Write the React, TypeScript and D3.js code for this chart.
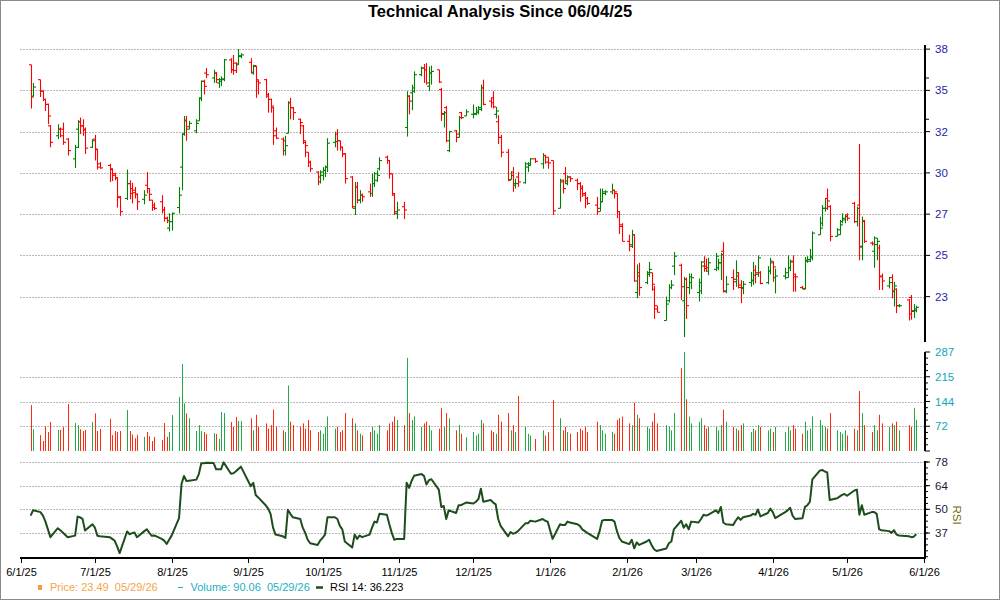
import React from 'react';
import * as d3 from 'd3';

const W = 1000;
const H = 600;

// trading calendar
const firstDay = '2025-06-05';
const lastDay = '2026-05-29';
const holidays = ['2025-06-19', '2025-07-04', '2025-09-01', '2025-11-27', '2025-12-25',
  '2026-01-01', '2026-01-19', '2026-02-16', '2026-04-03', '2026-05-25'];
const monthTicks = ['2025-06-01', '2025-07-01', '2025-08-01', '2025-09-01', '2025-10-01', '2025-11-01',
  '2025-12-01', '2026-01-01', '2026-02-01', '2026-03-01', '2026-04-01', '2026-05-01', '2026-06-01'];

// [open, high, low, close] per trading day
const ohlc: number[][] = [
  [36.8, 36.8, 34.15, 34.85], [34.9, 35.7, 34.9, 35.45],
  [35.9, 35.9, 34.85, 35.2], [35.2, 35.25, 34.6, 34.7], [34.7, 34.75, 34.0, 34.4], [34.4, 34.45, 33.2, 33.7], [33.1, 33.15, 31.8, 32.1],
  [32.5, 33.2, 32.3, 32.9], [32.9, 33.0, 32.4, 32.5], [32.9, 33.3, 31.95, 32.1], [32.3, 32.35, 31.3, 31.6],
  [31.1, 31.95, 30.55, 31.8], [32.9, 33.45, 31.75, 33.35], [33.35, 33.6, 32.6, 33.1], [33.1, 33.5, 32.5, 32.85], [32.9, 33.0, 31.4, 31.75],
  [31.8, 32.3, 31.75, 32.2], [32.3, 32.55, 31.0, 31.65], [31.7, 31.7, 30.45, 30.6], [30.8, 30.9, 30.5, 30.55],
  [30.7, 30.8, 29.7, 30.5], [30.45, 30.5, 29.75, 30.1], [30.2, 30.25, 29.8, 29.95], [29.95, 29.98, 28.15, 28.75], [28.8, 28.85, 27.65, 27.9],
  [28.7, 30.45, 28.6, 29.6], [29.6, 29.8, 28.65, 29.0], [29.3, 29.65, 28.4, 29.05], [29.2, 29.4, 28.7, 28.95], [28.95, 29.0, 28.0, 28.5],
  [28.65, 29.2, 28.35, 28.9], [29.5, 30.3, 29.0, 29.3], [29.3, 29.3, 28.55, 28.95], [28.6, 28.6, 27.95, 28.15], [28.3, 28.45, 28.0, 28.1],
  [28.5, 28.9, 27.8, 28.0], [28.0, 28.2, 27.3, 27.5], [27.5, 27.6, 27.2, 27.35], [26.9, 27.8, 26.7, 27.3], [27.3, 27.85, 26.75, 27.8],
  [28.15, 29.4, 27.8, 28.9], [30.6, 32.65, 29.2, 32.6], [32.6, 33.7, 32.5, 33.45], [33.4, 33.7, 32.2, 33.05], [32.9, 33.4, 32.9, 33.25],
  [32.8, 33.5, 32.65, 33.25], [33.4, 34.8, 33.4, 34.75], [34.8, 35.85, 34.6, 35.8], [35.8, 35.9, 35.0, 35.5], [36.3, 36.6, 36.0, 36.2],
  [36.0, 36.5, 35.7, 36.3], [36.3, 36.35, 35.7, 35.9], [35.7, 36.0, 35.4, 35.9], [35.8, 36.1, 35.5, 35.95], [35.9, 37.15, 35.8, 37.1],
  [37.1, 37.2, 36.3, 36.5], [36.5, 37.4, 36.2, 36.45], [36.9, 36.95, 36.3, 36.85], [36.8, 37.75, 36.8, 37.35], [37.3, 37.5, 37.2, 37.4],
  [36.95, 37.2, 36.3, 36.35], [36.3, 36.8, 36.2, 36.75], [36.7, 36.75, 34.8, 35.8], [35.9, 35.9, 35.0, 35.7],
  [35.9, 35.95, 34.8, 35.0], [34.9, 35.1, 33.9, 34.7], [34.7, 34.75, 33.9, 34.3], [34.2, 34.25, 31.95, 32.5], [32.8, 33.0, 32.3, 32.35],
  [32.3, 32.4, 31.3, 32.2], [31.6, 32.5, 31.3, 31.9], [32.65, 34.6, 32.65, 34.5], [34.5, 34.8, 33.5, 34.2], [34.2, 34.25, 33.45, 33.9],
  [33.5, 33.55, 32.6, 33.3], [33.1, 33.15, 32.0, 32.1], [32.2, 32.2, 31.2, 31.9], [31.5, 31.5, 30.6, 30.9], [30.9, 31.0, 30.3, 30.5],
  [30.3, 30.35, 29.5, 30.0], [29.7, 30.4, 29.6, 30.3], [30.1, 30.6, 29.8, 30.4], [30.4, 30.7, 30.0, 30.6], [30.6, 32.35, 30.3, 32.05],
  [32.1, 32.75, 31.8, 32.15], [32.6, 32.9, 31.6, 32.2], [32.2, 32.2, 31.6, 31.8], [31.8, 31.85, 31.2, 31.4], [31.4, 31.45, 29.6, 29.9],
  [30.0, 30.05, 28.1, 28.2], [28.1, 29.7, 27.7, 29.4], [29.4, 29.7, 28.4, 28.6], [28.6, 29.2, 28.4, 28.9], [28.9, 29.0, 28.5, 28.8],
  [29.1, 29.6, 28.8, 29.0], [29.0, 30.2, 28.8, 29.6], [29.6, 30.3, 29.4, 30.2], [29.8, 30.4, 29.7, 30.1], [30.5, 31.2, 30.4, 31.0],
  [31.2, 31.3, 30.8, 31.0], [31.0, 31.0, 29.9, 30.2], [30.2, 30.2, 28.9, 29.0], [28.9, 29.0, 27.7, 27.9], [27.8, 28.5, 27.45, 28.0],
  [28.2, 28.5, 27.45, 28.0], [33.0, 35.2, 32.45, 34.9], [34.9, 34.95, 33.8, 34.6], [35.1, 35.6, 34.05, 35.4], [35.2, 36.4, 35.1, 36.2],
  [36.2, 36.7, 36.1, 36.6], [36.6, 36.85, 35.7, 36.5], [36.5, 36.9, 35.6, 35.7], [35.5, 36.7, 35.2, 36.3], [36.3, 36.75, 35.6, 36.4],
  [36.5, 36.5, 35.7, 35.75], [35.3, 35.4, 33.4, 33.85], [33.8, 34.0, 33.0, 33.9], [34.2, 34.3, 32.1, 32.2], [31.6, 32.8, 31.5, 32.75],
  [32.8, 32.85, 32.1, 32.6], [32.4, 33.7, 32.4, 33.6], [33.9, 33.95, 33.5, 33.6], [33.7, 34.1, 33.7, 33.95],
  [33.8, 34.4, 33.55, 33.85], [33.8, 34.25, 33.75, 34.0], [33.9, 34.3, 33.8, 34.2], [34.1, 35.6, 34.0, 35.4], [35.4, 35.9, 34.35, 34.4],
  [34.6, 34.8, 34.2, 34.5], [34.8, 35.2, 34.15, 34.25], [33.8, 34.25, 33.55, 34.0], [33.35, 33.75, 32.0, 32.4], [32.4, 32.55, 31.2, 31.5],
  [31.5, 31.7, 29.75, 29.8], [29.85, 30.35, 29.85, 30.3], [30.1, 30.6, 29.1, 29.5], [29.6, 29.9, 29.3, 29.6], [30.0, 30.3, 29.4, 29.7],
  [29.65, 30.9, 29.6, 30.8], [30.6, 30.9, 30.3, 30.7], [30.8, 31.15, 30.7, 31.1], [31.1, 31.15, 30.85, 30.95],
  [30.8, 31.45, 30.5, 31.3], [31.3, 31.35, 30.8, 30.9], [31.2, 31.2, 30.5, 30.85], [31.0, 31.0, 27.7, 27.95],
  [28.1, 29.9, 28.1, 29.8], [29.7, 29.85, 29.0, 29.3], [30.2, 30.6, 29.6, 29.75], [29.6, 30.1, 29.5, 30.0], [30.0, 30.05, 29.7, 29.9],
  [29.8, 29.9, 29.2, 29.6], [29.6, 29.7, 28.5, 29.4], [29.3, 29.5, 28.8, 28.9], [29.0, 29.1, 28.1, 28.7], [28.7, 28.8, 28.3, 28.4],
  [28.3, 28.8, 27.7, 27.9], [28.1, 29.3, 27.9, 28.5], [28.5, 29.3, 28.5, 29.1], [29.0, 29.2, 28.9, 29.1],
  [29.1, 29.6, 28.95, 29.2], [29.2, 29.2, 28.7, 29.1], [29.0, 29.0, 27.5, 27.9], [27.9, 27.9, 26.55, 27.0], [27.1, 27.2, 26.1, 26.1],
  [26.1, 26.5, 25.5, 25.8], [25.9, 26.8, 25.7, 26.5], [26.5, 26.5, 23.65, 23.7], [23.0, 24.7, 22.65, 24.2], [24.0, 24.8, 22.8, 23.3],
  [23.6, 24.3, 23.5, 24.2], [24.1, 24.85, 23.95, 24.4], [24.2, 24.2, 23.1, 23.5], [23.2, 23.4, 21.4, 22.2], [22.0, 22.2, 21.8, 21.8],
  [21.3, 22.75, 21.3, 22.3], [22.5, 23.5, 22.4, 23.3], [23.3, 23.75, 23.2, 23.45], [24.6, 25.45, 24.05, 25.2],
  [24.65, 24.75, 22.55, 23.35], [22.5, 23.95, 20.3, 23.8], [23.8, 23.9, 21.4, 22.2], [23.3, 24.15, 22.9, 23.95], [23.6, 24.15, 23.2, 23.9],
  [23.0, 23.85, 22.45, 23.6], [23.1, 24.9, 22.9, 24.85], [24.6, 25.2, 24.25, 24.45], [24.6, 25.05, 24.25, 24.5], [24.3, 25.1, 24.05, 24.8],
  [24.4, 25.4, 24.3, 25.2], [24.5, 25.05, 24.35, 24.8], [24.8, 25.4, 23.75, 25.3], [25.5, 26.05, 23.0, 23.05], [23.1, 24.0, 22.95, 23.5],
  [23.9, 24.4, 23.15, 23.65], [23.8, 24.95, 23.35, 24.2], [24.0, 24.25, 23.25, 23.45], [23.3, 23.75, 22.35, 23.25], [23.3, 23.7, 22.9, 23.5],
  [23.6, 24.25, 23.35, 23.75], [23.7, 24.85, 23.45, 24.05], [24.35, 24.65, 23.55, 24.2], [24.1, 25.25, 23.95, 25.1], [24.2, 24.3, 23.5, 23.55],
  [23.6, 24.6, 23.5, 24.3], [24.3, 25.1, 24.1, 24.9], [24.8, 24.9, 23.65, 24.55], [23.9, 24.45, 22.95, 24.0],
  [24.0, 24.5, 23.8, 24.2], [23.9, 25.25, 23.9, 24.5], [24.5, 25.0, 24.3, 24.9], [24.85, 25.25, 23.05, 23.95], [24.1, 24.15, 23.05, 23.95],
  [23.3, 23.4, 23.2, 23.25], [23.2, 25.15, 23.2, 24.95], [24.9, 25.2, 24.8, 25.0], [24.9, 25.65, 24.85, 25.1], [25.2, 26.7, 24.95, 26.6],
  [26.5, 27.6, 26.5, 26.9], [27.2, 28.3, 27.0, 28.1], [28.1, 28.7, 27.9, 28.1], [28.7, 29.3, 28.0, 28.55], [28.2, 28.3, 26.1, 26.4],
  [26.4, 26.9, 26.4, 26.8], [26.5, 27.4, 26.5, 27.1], [27.3, 27.8, 27.2, 27.5], [27.4, 27.7, 27.2, 27.6], [27.7, 27.8, 27.35, 27.5],
  [28.4, 28.5, 27.2, 27.3], [27.3, 28.2, 27.0, 28.1], [28.3, 32.0, 24.95, 25.75], [25.8, 27.6, 24.95, 27.35], [27.3, 27.4, 26.0, 26.1],
  [26.0, 26.1, 25.85, 25.95], [25.5, 26.4, 24.5, 26.3], [25.9, 26.3, 24.95, 26.1], [25.7, 25.9, 23.15, 23.95], [24.0, 24.15, 23.15, 23.7],
  [23.4, 23.95, 23.25, 23.6], [23.9, 24.1, 22.65, 23.05], [23.1, 23.65, 22.15, 23.4], [23.2, 23.25, 21.75, 22.2], [22.2, 22.3, 22.1, 22.2],
  [22.55, 22.6, 21.3, 21.7], [22.7, 22.85, 21.35, 21.9], [21.85, 22.3, 21.45, 22.0], [21.9, 22.2, 21.8, 22.1],
];

const volumes: number[] = [
  133, 63,
  46, 29, 72, 55, 84,
  61, 61, 69, 136,
  81, 75, 63, 58, 61,
  84, 109, 58, 64,
  93, 46, 58, 55, 58,
  119, 58, 48, 37, 46,
  41, 55, 43, 29, 41,
  32, 81, 41, 55, 104,
  157, 252, 138, 109, 95,
  58, 75, 58, 55, 49,
  52, 49, 35, 113, 110,
  84, 70, 99, 87, 87,
  95, 60, 105, 70,
  80, 65, 75, 120, 70,
  60, 55, 190, 85, 75,
  70, 80, 65, 90, 60,
  55, 60, 50, 70, 100,
  65, 70, 55, 60, 110,
  95, 80, 60, 50, 45,
  55, 70, 60, 50, 75,
  60, 80, 85, 100, 90,
  75, 270, 110, 90, 100,
  70, 80, 85, 75, 60,
  65, 125, 70, 110, 95,
  60, 75, 50, 40,
  55, 45, 50, 90, 80,
  60, 55, 50, 105, 85,
  110, 60, 75, 55, 160,
  70, 50, 45, 35,
  60, 45, 55, 148,
  95, 60, 70, 55, 50,
  55, 65, 60, 70, 55,
  85, 75, 60, 50,
  55, 50, 90, 95, 100,
  80, 75, 140, 105, 95,
  70, 65, 85, 110, 80,
  75, 70, 60, 110,
  240, 287, 150, 100, 80,
  85, 95, 75, 65, 70,
  70, 60, 75, 120, 85,
  70, 65, 60, 75, 80,
  55, 65, 60, 75, 70,
  60, 65, 55, 70,
  55, 70, 60, 75, 65,
  50, 85, 60, 65, 100,
  90, 75, 70, 65, 110,
  60, 55, 50, 60, 45,
  65, 60, 174, 110, 75,
  55, 75, 60, 105, 80,
  70, 80, 75, 85, 60,
  75, 70, 125, 90.06,
];

const rsi: number[] = [
  47.0, 50.1,
  49.0, 47.0, 43.5, 39.0, 34.5,
  39.7, 38.5, 37.2, 34.5,
  35.4, 46.4, 46.0, 45.1, 38.3,
  42.0, 40.0, 35.3, 35.0,
  34.5, 33.5, 32.4, 29.0, 25.3,
  37.8, 36.2, 36.8, 37.2, 34.5,
  38.0, 39.1, 37.0, 35.3, 35.5,
  33.5, 32.5, 30.6, 33.0, 35.4,
  45.5, 65.3, 69.9, 67.0, 67.2,
  67.8, 71.0, 77.3, 77.3, 77.5,
  77.4, 73.8, 73.8, 73.8, 77.8,
  71.2, 71.5, 72.6, 74.0, 75.3,
  64.0, 66.0, 58.9, 57.5,
  53.0, 51.0, 48.0, 40.0, 36.0,
  35.0, 34.0, 50.3, 48.0, 46.0,
  45.0, 40.0, 37.0, 33.0, 31.0,
  30.0, 32.5, 34.0, 36.0, 46.0,
  46.0, 45.0, 41.0, 39.0, 32.0,
  28.5, 36.0, 33.5, 35.5, 34.5,
  36.0, 40.0, 43.5, 43.0, 48.0,
  47.5, 42.0, 37.0, 33.0, 33.5,
  33.5, 66.0, 63.0, 67.0, 70.0,
  71.0, 70.0, 65.0, 67.5, 68.0,
  62.0, 52.0, 52.5, 45.0, 50.0,
  48.5, 53.0, 53.0, 54.5,
  54.0, 55.0, 56.5, 62.5, 55.0,
  56.0, 54.5, 53.5, 45.0, 41.0,
  35.0, 37.5, 36.5, 37.0, 38.0,
  42.5, 42.5, 44.0, 43.5,
  45.0, 44.0, 43.5, 33.5,
  42.0, 41.5, 41.5, 43.5, 43.0,
  42.0, 41.0, 39.0, 38.0, 37.0,
  33.5, 38.0, 44.0, 44.5,
  44.5, 43.5, 38.0, 34.0, 32.0,
  30.5, 33.0, 28.0, 31.5, 30.0,
  32.0, 33.0, 30.0, 27.5, 26.5,
  28.0, 31.0, 32.0, 39.0,
  44.0, 40.0, 42.0, 39.0, 43.5,
  43.0, 45.0, 47.5, 47.0, 47.5,
  50.0, 48.5, 52.0, 43.0, 42.0,
  41.5, 44.0, 46.0, 44.5, 46.0,
  47.0, 48.0, 47.5, 50.5, 46.5,
  48.5, 51.0, 49.0, 45.5,
  49.0, 50.0, 51.5, 47.0, 45.0,
  45.5, 52.0, 53.0, 55.0, 68.0,
  73.0, 73.4, 72.5, 72.0, 56.0,
  57.0, 58.0, 59.0, 59.5, 58.5,
  61.5, 62.0, 47.5, 53.0, 47.5,
  49.0, 49.0, 48.0, 39.0, 38.5,
  38.0, 37.0, 38.5, 36.0, 35.5,
  35.0, 34.5, 34.8, 36.2,
];

const priceTicks = [22.75, 25.25, 27.75, 30.25, 32.75, 35.25, 37.75];
const priceLabels = ['23', '25', '27', '30', '32', '35', '38'];
const priceMinor = [33.5, 36.0];
const volumeTicks = [71.75, 143.5, 215.25, 287];
const rsiTicks = [36.9, 50.6, 64.3, 78];
const rsiLabels = ['37', '50', '64', '78'];

const legendPrice = 'Price: 23.49  05/29/26';
const legendVolume = 'Volume: 90.06  05/29/26';
const legendRsi = 'RSI 14: 36.223';

const parse = d3.timeParse('%Y-%m-%d');
const fmtKey = d3.timeFormat('%Y-%m-%d');
const fmtTick = (d: Date) => `${d.getMonth() + 1}/${d.getDate()}/${String(d.getFullYear()).slice(2)}`;

const holidaySet = new Set(holidays);
const days = d3.timeDay
  .range(parse(firstDay)!, d3.timeDay.offset(parse(lastDay)!, 1))
  .filter(d => d.getDay() !== 0 && d.getDay() !== 6 && !holidaySet.has(fmtKey(d)));

const UP = '#008000';
const DOWN = '#ff0000';
const VUP = '#22aa44';
const VDOWN = '#ff2a10';
const FONT = '"Liberation Sans", Arial, sans-serif';

export default function App() {
  const left = 20.7;
  const right = 923.7;
  const axisX = 925;

  const x = d3.scaleTime()
    .domain([parse(monthTicks[0])!, parse(monthTicks[monthTicks.length - 1])!])
    .range([left, right]);

  const yP = d3.scaleLinear().domain([20, 38]).range([342, 45]);
  const yV = d3.scaleLinear().domain([0, 287]).range([451, 352]);
  const yR = d3.scaleLinear().domain([22.45, 78]).range([558, 462]);

  const n = Math.min(days.length, ohlc.length);
  const bars = d3.range(n).map(i => ({ date: days[i], o: ohlc[i][0], h: ohlc[i][1], l: ohlc[i][2], c: ohlc[i][3] }));

  const rsiLine = d3.line<number>()
    .x((_, i) => x(days[i]))
    .y(v => yR(v))
    .curve(d3.curveLinear);

  const grid = (y: number, key: string) => (
    <line key={key} x1={20} x2={axisX} y1={Math.round(y) + 0.5} y2={Math.round(y) + 0.5}
      stroke="#b9b9b9" strokeDasharray="2,1" />
  );

  const volMinor = d3.range(0, 17).map(i => (287 / 16) * i);
  const rsiStep = (78 - 36.9) / 3 / 4;
  const rsiMinor = d3.range(-6, 13).map(i => 36.9 + rsiStep * i).filter(v => v >= 22.5 && v <= 78.01);

  return (
    <svg width={W} height={H} style={{ position: 'absolute', left: 0, top: 0, background: '#fff' }}
      fontFamily={FONT}>
      <rect x={0.5} y={0.5} width={W - 1} height={H - 1} fill="#fff" stroke="#8a8a8a" />

      <text x={500} y={17} textAnchor="middle" fontSize={16.5} fontWeight="bold" fill="#000">
        Technical Analysis Since 06/04/25
      </text>

      {/* grids */}
      {priceTicks.map((v, i) => grid(yP(v), 'pg' + i))}
      {volumeTicks.slice(0, 3).map((v, i) => grid(yV(v), 'vg' + i))}
      {rsiTicks.map((v, i) => grid(yR(v), 'rg' + i))}

      {/* volume bars */}
      {bars.map((b, i) => (
        <rect key={'v' + i} x={Math.round(x(b.date))} y={yV(volumes[i] ?? 0)} width={1}
          height={yV(0) - yV(volumes[i] ?? 0)} fill={b.c >= b.o ? VUP : VDOWN} />
      ))}

      {/* price bars */}
      {bars.map((b, i) => {
        const cx = Math.round(x(b.date)) + 0.5;
        const col = b.c >= b.o ? UP : DOWN;
        return (
          <g key={'p' + i} stroke={col} strokeWidth={1.1}>
            <line x1={cx} x2={cx} y1={yP(b.h)} y2={yP(b.l)} />
            <line x1={cx - 2.5} x2={cx} y1={yP(b.o)} y2={yP(b.o)} />
            <line x1={cx} x2={cx + 2.5} y1={yP(b.c)} y2={yP(b.c)} />
          </g>
        );
      })}

      {/* RSI */}
      <path d={rsiLine(rsi.slice(0, days.length)) || ''} fill="none" stroke="#1d4d1d" strokeWidth={2}
        strokeLinejoin="round" />

      {/* right axes */}
      <g stroke="#000">
        <line x1={axisX} x2={axisX} y1={45} y2={342} strokeWidth={2} />
        <line x1={axisX} x2={axisX} y1={352} y2={451} strokeWidth={2} />
        <line x1={axisX} x2={axisX} y1={461} y2={559} strokeWidth={2} />
        {priceTicks.map((v, i) => (
          <line key={'pt' + i} x1={axisX} x2={axisX + 5} y1={yP(v)} y2={yP(v)} />
        ))}
        {priceMinor.map((v, i) => (
          <line key={'pm' + i} x1={axisX} x2={axisX + 4} y1={yP(v)} y2={yP(v)} />
        ))}
        {volMinor.map((v, i) => (
          <line key={'vm' + i} x1={axisX} x2={axisX + (i % 4 === 0 ? 5 : 3)} y1={yV(v)} y2={yV(v)} />
        ))}
        {rsiMinor.map((v, i) => (
          <line key={'rm' + i} x1={axisX} x2={axisX + 3} y1={yR(v)} y2={yR(v)} />
        ))}
        {rsiTicks.map((v, i) => (
          <line key={'rt' + i} x1={axisX} x2={axisX + 5} y1={yR(v)} y2={yR(v)} />
        ))}
      </g>
      <g fontSize={11.5} dominantBaseline="central">
        {priceTicks.map((v, i) => (
          <text key={'pl' + i} x={935} y={yP(v)} fill="#2424a8">{priceLabels[i]}</text>
        ))}
        {volumeTicks.map((v, i) => (
          <text key={'vl' + i} x={935} y={yV(v)} fill="#10a8b8">{d3.format('.0f')(v)}</text>
        ))}
        {rsiTicks.map((v, i) => (
          <text key={'rl' + i} x={935} y={yR(v)} fill="#1a1a3a">{rsiLabels[i]}</text>
        ))}
      </g>
      <text transform="translate(953,515) rotate(90)" textAnchor="middle" fontSize={11.5}
        fill="#6f6f10">RSI</text>

      {/* x axis */}
      <line x1={20} x2={axisX + 1} y1={558} y2={558} stroke="#000" strokeWidth={2} />
      {monthTicks.map((m, i) => {
        const tx = Math.round(x(parse(m)!)) + 0.5;
        return (
          <g key={'xt' + i}>
            <line x1={tx} x2={tx} y1={558} y2={563} stroke="#000" />
            <text x={tx} y={576} textAnchor="middle" fontSize={11} fill="#000">{fmtTick(parse(m)!)}</text>
          </g>
        );
      })}

      {/* legend */}
      <g fontSize={11}>
        <rect x={38} y={585} width={4} height={5} fill="#f0a040" />
        <text x={50} y={591} fill="#f2a54a">{legendPrice.replace('  ', '\u00a0\u00a0')}</text>
        <line x1={178} x2={183} y1={587.5} y2={587.5} stroke="#20b0c0" strokeWidth={1} />
        <text x={190.5} y={591} fill="#20b0c0">{legendVolume.replace('  ', '\u00a0\u00a0')}</text>
        <line x1={316} x2={323} y1={587.5} y2={587.5} stroke="#1d4d1d" strokeWidth={2.5} />
        <text x={330} y={591} fill="#000">{legendRsi}</text>
      </g>
    </svg>
  );
}
